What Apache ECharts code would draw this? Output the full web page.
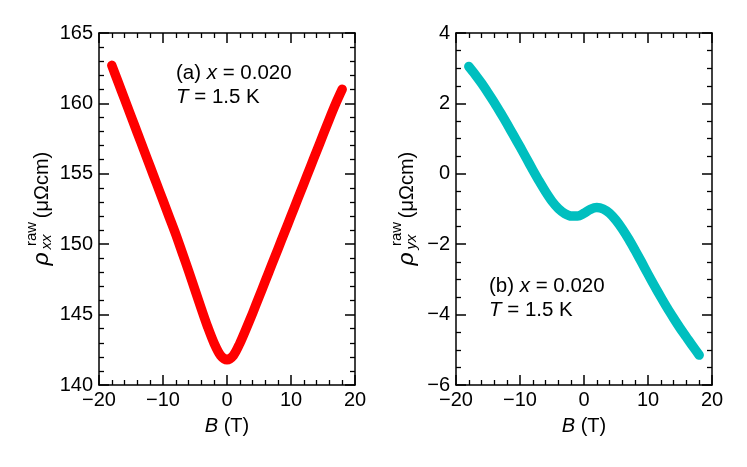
<!DOCTYPE html>
<html>
<head>
<meta charset="utf-8">
<script src="https://cdn.jsdelivr.net/npm/echarts@6/dist/echarts.min.js"></script>
<style>
  html, body { margin: 0; padding: 0; background: #fff; }
  #chart { width: 747px; height: 467px; }
</style>
</head>
<body>
<div id="chart"></div>
<script>
// 磁场 B (T)
const bValues = [-18, -17, -16, -15, -14, -13, -12, -11, -10, -9, -8, -7, -6, -5, -4, -3, -2, -1, 0,
  1, 2, 3, 4, 5, 6, 7, 8, 9, 10, 11, 12, 13, 14, 15, 16, 17, 18]

// (a) rho_xx raw (μΩcm)
const rhoXX = [162.7, 161.5, 160.3, 159.1, 157.9, 156.7, 155.5, 154.3, 153.1, 151.9, 150.7, 149.4, 148.1, 146.75, 145.4, 144.1, 142.95, 142.1, 141.8,
  142.1, 142.95, 144.0, 145.1, 146.25, 147.4, 148.55, 149.7, 150.85, 152.0, 153.15, 154.3, 155.45, 156.6, 157.75, 158.9, 160.0, 161.0]

// (b) rho_yx raw (μΩcm)
const rhoYX = [3.05, 2.82, 2.57, 2.30, 2.02, 1.72, 1.41, 1.09, 0.77, 0.44, 0.11, -0.21, -0.51, -0.78, -0.99, -1.13, -1.20, -1.20, -1.12,
  -1.01, -0.96, -1.00, -1.12, -1.32, -1.57, -1.86, -2.18, -2.51, -2.85, -3.18, -3.50, -3.81, -4.10, -4.38, -4.64, -4.90, -5.15]

// 坐标轴范围 [min, max, interval]
const bRange = [-20, 20, 10]
const xxRange = [140, 165, 5]
const yxRange = [-6, 4, 2]

const FONT = "'Liberation Sans', Arial, Helvetica, sans-serif"
const FS = 20
const fmt = (v) => String(v).replace('-', '\u2212')

const lineStyle = { color: '#000', width: 1.5 }

function makeAxis(opts) {
  return {
    type: 'value',
    gridIndex: opts.grid,
    position: opts.position,
    min: opts.range[0],
    max: opts.range[1],
    interval: opts.range[2],
    axisLine: { show: true, onZero: false, lineStyle },
    axisTick: { show: true, inside: true, length: 10, lineStyle },
    minorTick: { show: true, splitNumber: opts.minor, length: 5, lineStyle: { color: '#000', width: 1.3 } },
    splitLine: { show: false },
    minorSplitLine: { show: false },
    axisLabel: {
      show: !!opts.label,
      margin: opts.margin || 6,
      color: '#000',
      fontSize: FS,
      fontFamily: FONT,
      formatter: fmt
    },
    name: opts.name || '',
    nameLocation: 'middle',
    nameGap: 31,
    nameTextStyle: {
      color: '#000',
      fontSize: FS,
      fontFamily: FONT,
      rich: {
        i: { fontStyle: 'italic', fontSize: FS, fontFamily: FONT, color: '#000' },
        n: { fontSize: FS, fontFamily: FONT, color: '#000' }
      }
    }
  }
}

// 纵轴标题（旋转文字，带上下标）
function yTitle(cx, sub) {
  return {
    type: 'group',
    x: cx,
    y: 210,
    rotation: Math.PI / 2,
    children: [
      { type: 'text', x: -49, y: -2, style: { text: '\u03c1', fontSize: 23, fontStyle: 'italic', fontFamily: FONT, fill: '#000', align: 'center', verticalAlign: 'middle' } },
      { type: 'text', x: -32, y: 3, style: { text: sub, fontSize: 15, fontStyle: 'italic', fontFamily: FONT, fill: '#000', align: 'center', verticalAlign: 'middle' } },
      { type: 'text', x: -24, y: -12.5, style: { text: 'raw', fontSize: 15, fontFamily: FONT, fill: '#000', align: 'center', verticalAlign: 'middle' } },
      { type: 'text', x: 25, y: -1.5, style: { text: '(\u03bc\u03a9cm)', fontSize: FS, fontFamily: FONT, fill: '#000', align: 'center', verticalAlign: 'middle' } }
    ]
  }
}

const annRich = {
  i: { fontStyle: 'italic', fontSize: 20.5, fontFamily: FONT, fill: '#000' },
  n: { fontSize: 20.5, fontFamily: FONT, fill: '#000' }
}

function note(x, y, tag) {
  return [
    { type: 'text', x, y, style: { text: '{n|(' + tag + ') }{i|x}{n| = 0.020}', rich: annRich, fill: '#000', verticalAlign: 'top' } },
    { type: 'text', x, y: y + 24, style: { text: '{i|T}{n| = 1.5 K}', rich: annRich, fill: '#000', verticalAlign: 'top' } }
  ]
}

const chart = echarts.init(document.getElementById('chart'))

const option = {
  animation: false,
  backgroundColor: '#fff',
  grid: [
    { left: 99, top: 33, width: 256, height: 352, outerBoundsMode: 'none' },
    { left: 456, top: 33, width: 256, height: 352, outerBoundsMode: 'none' }
  ],
  xAxis: [
    makeAxis({ grid: 0, position: 'bottom', range: bRange, minor: 5, label: true, margin: 5, name: '{i|B}{n| (T)}' }),
    makeAxis({ grid: 0, position: 'top', range: bRange, minor: 5 }),
    makeAxis({ grid: 1, position: 'bottom', range: bRange, minor: 5, label: true, margin: 5, name: '{i|B}{n| (T)}' }),
    makeAxis({ grid: 1, position: 'top', range: bRange, minor: 5 })
  ],
  yAxis: [
    makeAxis({ grid: 0, position: 'left', range: xxRange, minor: 5, label: true }),
    makeAxis({ grid: 0, position: 'right', range: xxRange, minor: 5 }),
    makeAxis({ grid: 1, position: 'left', range: yxRange, minor: 4, label: true }),
    makeAxis({ grid: 1, position: 'right', range: yxRange, minor: 4 })
  ],
  series: [
    {
      type: 'line',
      xAxisIndex: 0,
      yAxisIndex: 0,
      data: bValues.map((b, i) => [b, rhoXX[i]]),
      showSymbol: false,
      smooth: 0.3,
      lineStyle: { color: '#ff0000', width: 9.5, cap: 'round', join: 'round' }
    },
    {
      type: 'line',
      xAxisIndex: 2,
      yAxisIndex: 2,
      data: bValues.map((b, i) => [b, rhoYX[i]]),
      showSymbol: false,
      smooth: 0.3,
      lineStyle: { color: '#00bfbf', width: 9.5, cap: 'round', join: 'round' }
    }
  ],
  graphic: [
    yTitle(44, 'xx'),
    yTitle(409, 'yx'),
    ...note(176, 63, 'a'),
    ...note(489, 276, 'b')
  ]
}

chart.setOption(option)
</script>
</body>
</html>
